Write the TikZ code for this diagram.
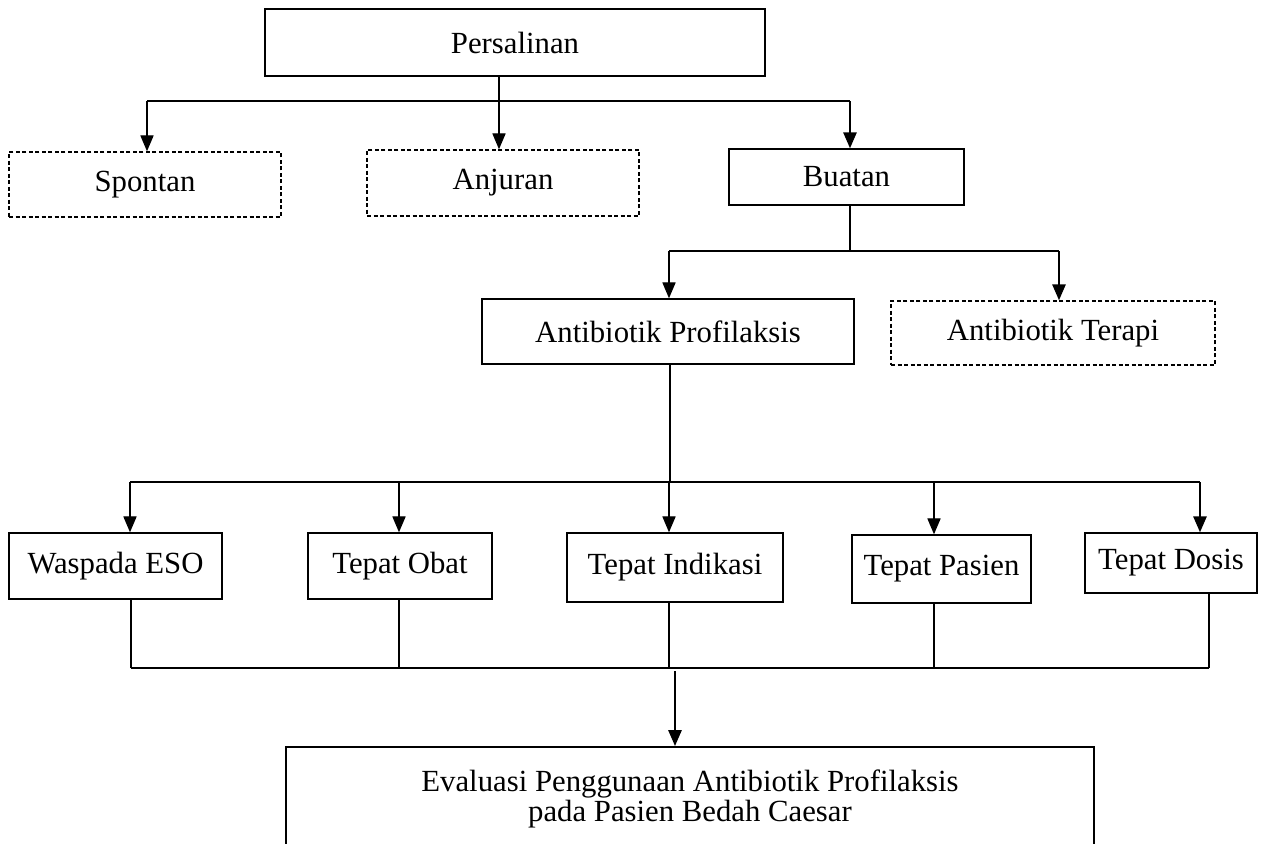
\documentclass[tikz,border=0pt]{standalone}
\usepackage{fontspec}
\setmainfont{Liberation Serif}
\usetikzlibrary{arrows.meta}

\tikzset{
  box/.style={draw, line width=0.85pt, inner sep=0pt, font=\fontsize{17.5}{17}\selectfont},
  dbox/.style={box, dash pattern=on 2.3pt off 1.4pt},
  line/.style={line width=0.6pt},
  arr/.style={line, -{Triangle[length=9pt,width=7.5pt]}},
  barr/.style={arr, line width=1.1pt},
}

\begin{document}
\begin{tikzpicture}[x=0.02cm, y=-0.02cm]
  \useasboundingbox (0,0) rectangle (1265,843);

  % persalinan
  \node[box, minimum width=10cm, minimum height=1.34cm] (pers) at (515,42.5) {Persalinan};
  \node[dbox, minimum width=5.44cm, minimum height=1.3cm] (spon) at (145,184.5) {Spontan};
  \node[dbox, minimum width=5.44cm, minimum height=1.32cm] (anju) at (503,183) {Anjuran};
  \node[box, minimum width=4.7cm, minimum height=1.12cm] (buat) at (846.5,177) {Buatan};

  \draw[line] (pers.south -| 499,0) -- (499,101);
  \draw[line] (147,101) -- (850,101);
  \draw[arr] (147,101) -- (spon.north -| 147,0);
  \draw[arr] (499,101) -- (anju.north -| 499,0);
  \draw[barr] (850,101) -- (buat.north -| 850,0);

  % antibiotik
  \node[box, minimum width=7.44cm, minimum height=1.3cm] (prof) at (668,331.5) {Antibiotik Profilaksis};
  \node[dbox, minimum width=6.48cm, minimum height=1.28cm] (tera) at (1053,333) {Antibiotik Terapi};

  \draw[line] (buat.south -| 850,0) -- (850,251);
  \draw[line] (669,251) -- (1059,251);
  \draw[arr] (669,251) -- (prof.north -| 669,0);
  \draw[barr] (1059,251) -- (tera.north -| 1059,0);

  % tepat
  \node[box, minimum width=4.26cm, minimum height=1.32cm] (wasp) at (115.5,566) {Waspada ESO};
  \node[box, minimum width=3.68cm, minimum height=1.32cm] (obat) at (400,566) {Tepat Obat};
  \node[box, minimum width=4.32cm, minimum height=1.38cm] (indi) at (675,567.5) {Tepat Indikasi};
  \node[box, minimum width=3.58cm, minimum height=1.36cm] (pasi) at (941.5,569) {Tepat Pasien};
  \node[box, minimum width=3.44cm, minimum height=1.2cm] (dosi) at (1171,563) {Tepat Dosis};

  \draw[line] (prof.south -| 670,0) -- (670,482);
  \draw[line] (130,482) -- (1200,482);
  \foreach \n/\x in {wasp/130, obat/399, indi/669, pasi/934}
    \draw[arr] (\x,482) -- (\n.north -| \x,0);
  \draw[barr] (1200,482) -- (dosi.north -| 1200,0);

  \foreach \n/\x in {wasp/131, obat/399, indi/669, pasi/934, dosi/1209}
    \draw[line] (\n.south -| \x,0) -- (\x,668);
  \draw[line width=0.9pt] (131,668) -- (1209,668);

  % evaluasi
  \begin{scope}
    \clip (0,0) rectangle (1265,843);
    \node[box, anchor=north, align=center, minimum width=16.16cm, minimum height=2.08cm] (eval) at (690,746)
      {Evaluasi Penggunaan Antibiotik Profilaksis\\pada Pasien Bedah Caesar};
  \end{scope}
  \draw[barr] (675,671) -- (eval.north -| 675,0);
\end{tikzpicture}
\end{document}
